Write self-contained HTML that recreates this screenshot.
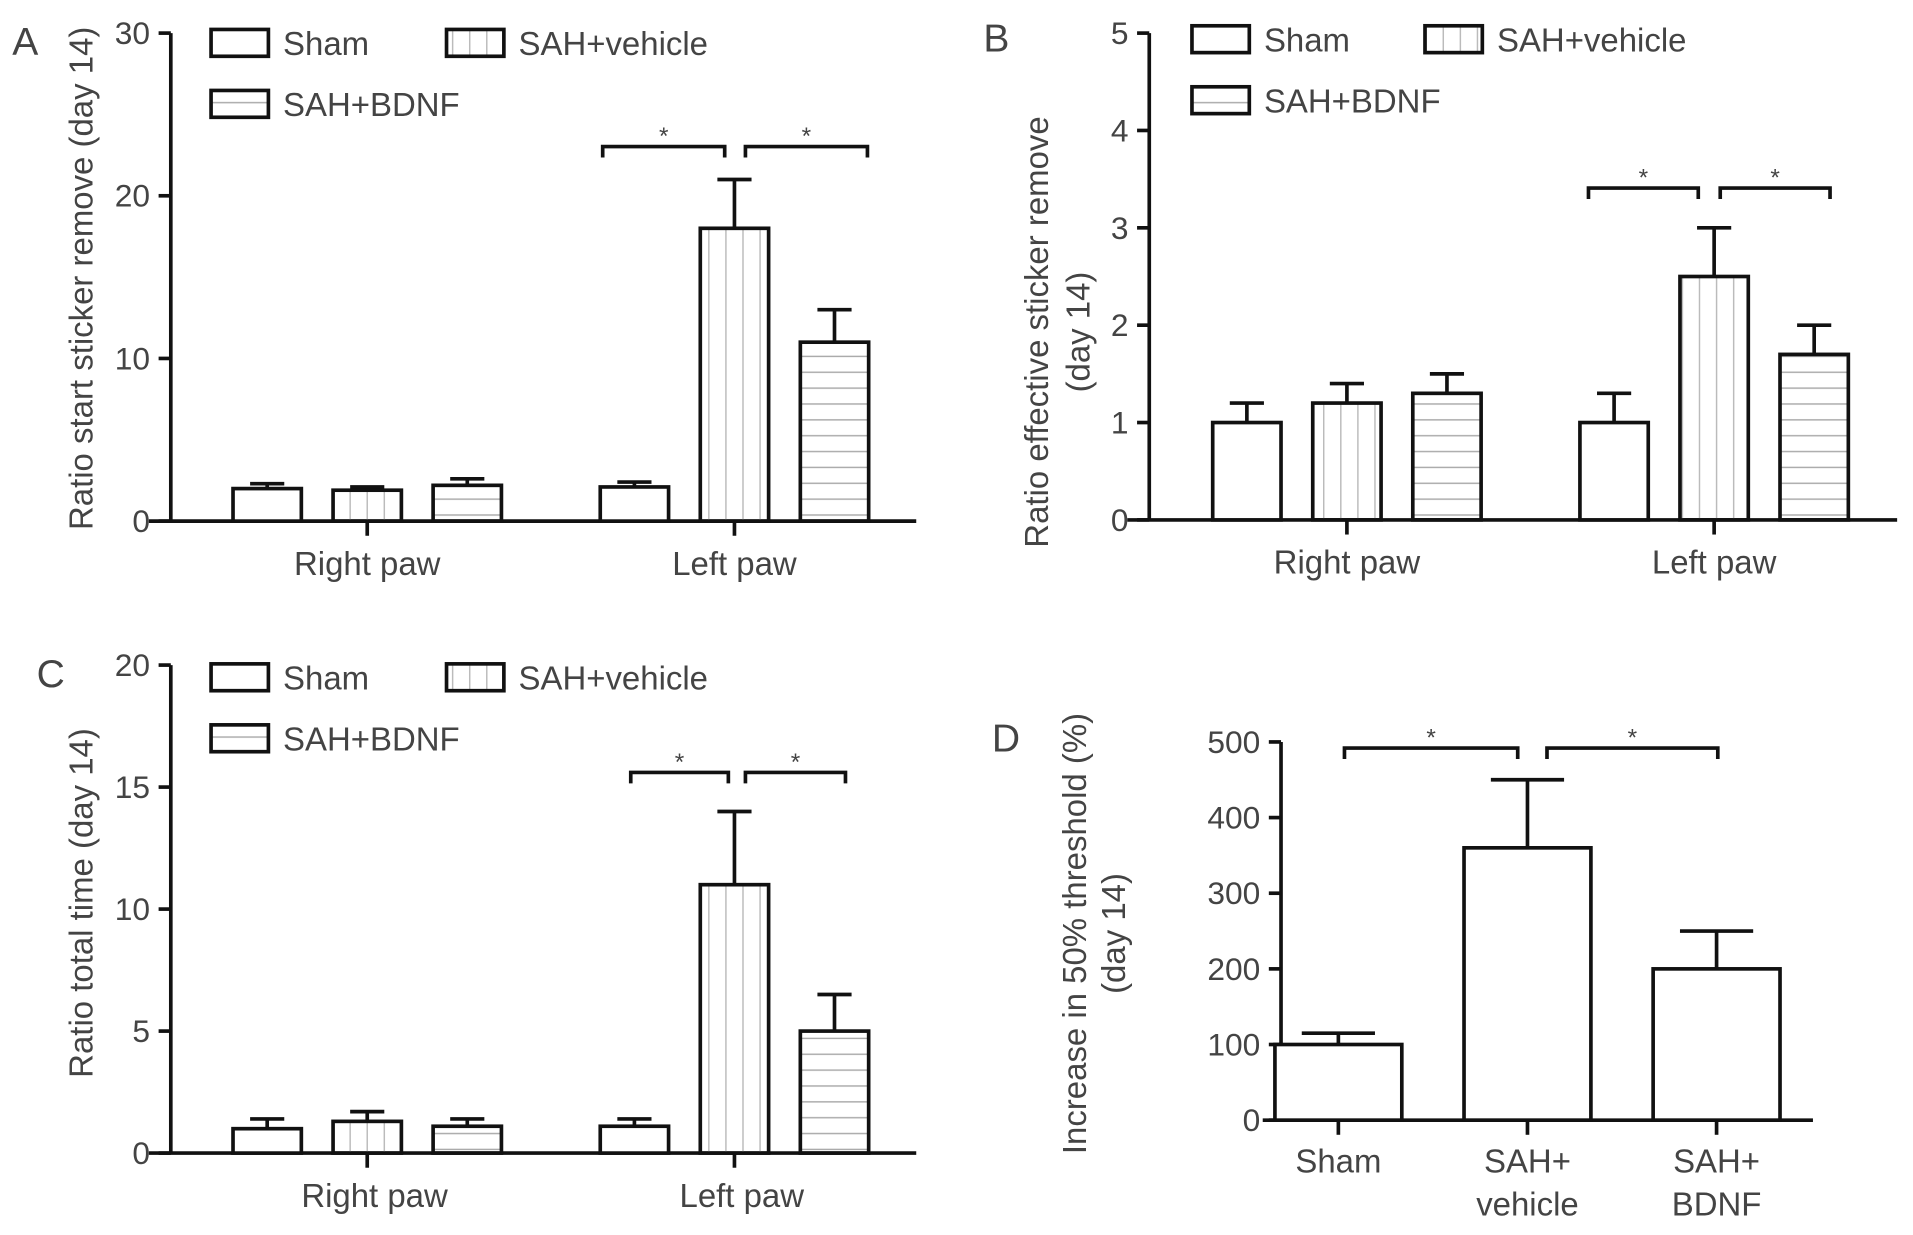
<!DOCTYPE html>
<html><head><meta charset="utf-8">
<style>
html,body{margin:0;padding:0;background:#fff;}
svg{display:block;}
text{font-family:"Liberation Sans",sans-serif;fill:#444;}
</style></head>
<body>
<svg id="fig" width="1913" height="1235" viewBox="0 0 1568 1012" xmlns="http://www.w3.org/2000/svg">
<defs>
<pattern id="vh" patternUnits="userSpaceOnUse" width="14" height="10"><line x1="7" y1="0" x2="7" y2="10" stroke="#bbb" stroke-width="1.2"/></pattern>
<pattern id="hh" patternUnits="userSpaceOnUse" width="10" height="13"><line x1="0" y1="6" x2="10" y2="6" stroke="#aaa" stroke-width="1.2"/></pattern>
</defs>
</svg>
<script>
const groupsAB = ["Right paw","Left paw"];
const seriesNames = ["Sham","SAH+vehicle","SAH+BDNF"];
const aVals = [[2,1.9,2.2],[2.1,18,11]];
const aErr = [[2.3,2.1,2.6],[2.4,21,13]];
const aTicks = [0,10,20,30];
const bVals = [[1,1.2,1.3],[1,2.5,1.7]];
const bErr = [[1.2,1.4,1.5],[1.3,3.0,2.0]];
const bTicks = [0,1,2,3,4,5];
const cVals = [[1,1.3,1.1],[1.1,11,5]];
const cErr = [[1.4,1.7,1.4],[1.4,14,6.5]];
const cTicks = [0,5,10,15,20];
const dCats = [["Sham"],["SAH+","vehicle"],["SAH+","BDNF"]];
const dVals = [100,360,200];
const dErr = [115,450,250];
const dTicks = [0,100,200,300,400,500];

const svg=document.getElementById('fig');
const NS="http://www.w3.org/2000/svg";
function el(tag,attrs,parent,txt){const e=document.createElementNS(NS,tag);for(const k in attrs)e.setAttribute(k,attrs[k]);if(txt!==undefined)e.textContent=txt;(parent||svg).appendChild(e);return e;}
const fills=["#fff","url(#vh)","url(#hh)"];

function panel(o){
  const g=el('g',{});
  
  
  const y=v=>o.y0-(v-o.min)/(o.max-o.min)*(o.y0-o.yTop);
  const t=el('text',{x:o.letterX,y:o.letterY,'font-size':32,fill:'#333'},g,o.id);
  
  
  const ax=el('line',{x1:o.ax,y1:o.yTop,x2:o.ax,y2:o.y0,stroke:'#111','stroke-width':3},g);
  
  
  o.ticks.forEach(v=>{
    el('line',{x1:o.ax-10,y1:y(v),x2:o.ax,y2:y(v),stroke:'#111','stroke-width':3},g);
    const tl=el('text',{x:o.ax-17,y:y(v)+9,'font-size':26,'text-anchor':'end'},g,String(v));
    
    
  });
  const xa=el('line',{x1:o.xa0,y1:o.y0,x2:o.xa1,y2:o.y0,stroke:'#111','stroke-width':3},g);
  
  
  o.ylab.forEach((s,i)=>{
    const yt=el('text',{x:0,y:0,'font-size':27,'text-anchor':'middle',transform:`translate(${o.ylabX[i]},${o.ylabY}) rotate(-90)`},g,s);
    
    
  });
  o.vals.forEach((grp,gi)=>{
    const cx=o.gc[gi];
    el('line',{x1:cx,y1:o.y0,x2:cx,y2:o.y0+12,stroke:'#111','stroke-width':3},g);
    const gl=el('text',{x:cx+(o.glOff||0),y:o.y0+44,'font-size':27,'text-anchor':'middle'},g,o.groups[gi]);
    
    
    grp.forEach((v,si)=>{
      const x0=cx+(si-1)*82-28;
      const r=el('rect',{x:x0,y:y(v),width:56,height:o.y0-y(v),fill:fills[si],stroke:'#111','stroke-width':3},g);
      
      
      const e=o.err[gi][si];
      el('line',{x1:x0+28,y1:y(v),x2:x0+28,y2:y(e),stroke:'#111','stroke-width':3},g);
      el('line',{x1:x0+14,y1:y(e),x2:x0+42,y2:y(e),stroke:'#111','stroke-width':3},g);
    });
  });
  const lg=el('g',{},g);
  
  
  const lp=[[o.lx,o.ly],[o.lx2,o.ly],[o.lx,o.ly+50]];
  seriesNames.forEach((n,i)=>{
    el('rect',{x:lp[i][0],y:lp[i][1],width:47,height:22,fill:fills[i],stroke:'#111','stroke-width':3},lg);
    const lt=el('text',{x:lp[i][0]+59,y:lp[i][1]+21,'font-size':27},lg,n);
    
    
  });
  o.br.forEach(b=>{
    el('path',{d:`M${b[0]},${b[2]+9} V${b[2]} H${b[1]} V${b[2]+9}`,fill:'none',stroke:'#111','stroke-width':3},g);
    const s=el('text',{x:(b[0]+b[1])/2,y:b[2]-2,'font-size':20,'text-anchor':'middle',fill:'#222'},g,'*');
    
    
  });
}
panel({id:'A',letterX:10,letterY:45,ax:140,yTop:27,y0:427,min:0,max:30,ticks:aTicks,xa0:122,xa1:751,
  ylab:["Ratio start sticker remove (day 14)"],ylabX:[76],ylabY:228,groups:groupsAB,gc:[301,602],vals:aVals,err:aErr,
  lx:173,lx2:366,ly:24,br:[[494,594,120],[611,711,120]]});
panel({id:'B',letterX:806,letterY:42,ax:942,yTop:27,y0:426,min:0,max:5,ticks:bTicks,xa0:924,xa1:1555,
  ylab:["Ratio effective  sticker remove","(day 14)"],ylabX:[859,893],ylabY:272,groups:groupsAB,gc:[1104,1405],vals:bVals,err:bErr,
  lx:977,lx2:1168,ly:21,br:[[1302,1392,154],[1410,1500,154]]});
panel({id:'C',letterX:30,letterY:563,ax:140,yTop:545,y0:945,min:0,max:20,ticks:cTicks,xa0:122,xa1:751,glOff:6,
  ylab:["Ratio total time (day 14)"],ylabX:[76],ylabY:740,groups:groupsAB,gc:[301,602],vals:cVals,err:cErr,
  lx:173,lx2:366,ly:544,br:[[517,597,633],[611,693,633]]});

(function(){
  const g=el('g',{});
  
  
  const ax=1050,y0=918,yTop=608,max=500;
  const y=v=>y0-v/max*(y0-yTop);
  const t=el('text',{x:813,y:616,'font-size':32,fill:'#333'},g,'D');
  
  
  el('line',{x1:ax,y1:yTop,x2:ax,y2:y0,stroke:'#111','stroke-width':3},g);
  el('line',{x1:1035,y1:y0,x2:1486,y2:y0,stroke:'#111','stroke-width':3},g);
  dTicks.forEach(v=>{
    el('line',{x1:ax-10,y1:y(v),x2:ax,y2:y(v),stroke:'#111','stroke-width':3},g);
    const tl=el('text',{x:ax-17,y:y(v)+9,'font-size':26,'text-anchor':'end'},g,String(v));
    
    
  });
  [["Increase in 50% threshold (%)",890],["(day 14)",922]].forEach(a=>{
    const yt=el('text',{x:0,y:0,'font-size':27,'text-anchor':'middle',transform:`translate(${a[1]},765) rotate(-90)`},g,a[0]);
    
    
  });
  dVals.forEach((v,i)=>{
    const cx=1097+i*155, x0=cx-52;
    const r=el('rect',{x:x0,y:y(v),width:104,height:y0-y(v),fill:'#fff',stroke:'#111','stroke-width':3},g);
    
    
    el('line',{x1:cx,y1:y(v),x2:cx,y2:y(dErr[i]),stroke:'#111','stroke-width':3},g);
    el('line',{x1:cx-30,y1:y(dErr[i]),x2:cx+30,y2:y(dErr[i]),stroke:'#111','stroke-width':3},g);
    el('line',{x1:cx,y1:y0,x2:cx,y2:y0+12,stroke:'#111','stroke-width':3},g);
    dCats[i].forEach((s,j)=>{
      const cl=el('text',{x:cx,y:961+j*35,'font-size':27,'text-anchor':'middle'},g,s);
      
      
    });
  });
  [[1102,1244,613],[1268,1408,613]].forEach(b=>{
    el('path',{d:`M${b[0]},${b[2]+9} V${b[2]} H${b[1]} V${b[2]+9}`,fill:'none',stroke:'#111','stroke-width':3},g);
    const s=el('text',{x:(b[0]+b[1])/2,y:b[2]-2,'font-size':20,'text-anchor':'middle',fill:'#222'},g,'*');
    
    
  });
})();
</script>
</body></html>
